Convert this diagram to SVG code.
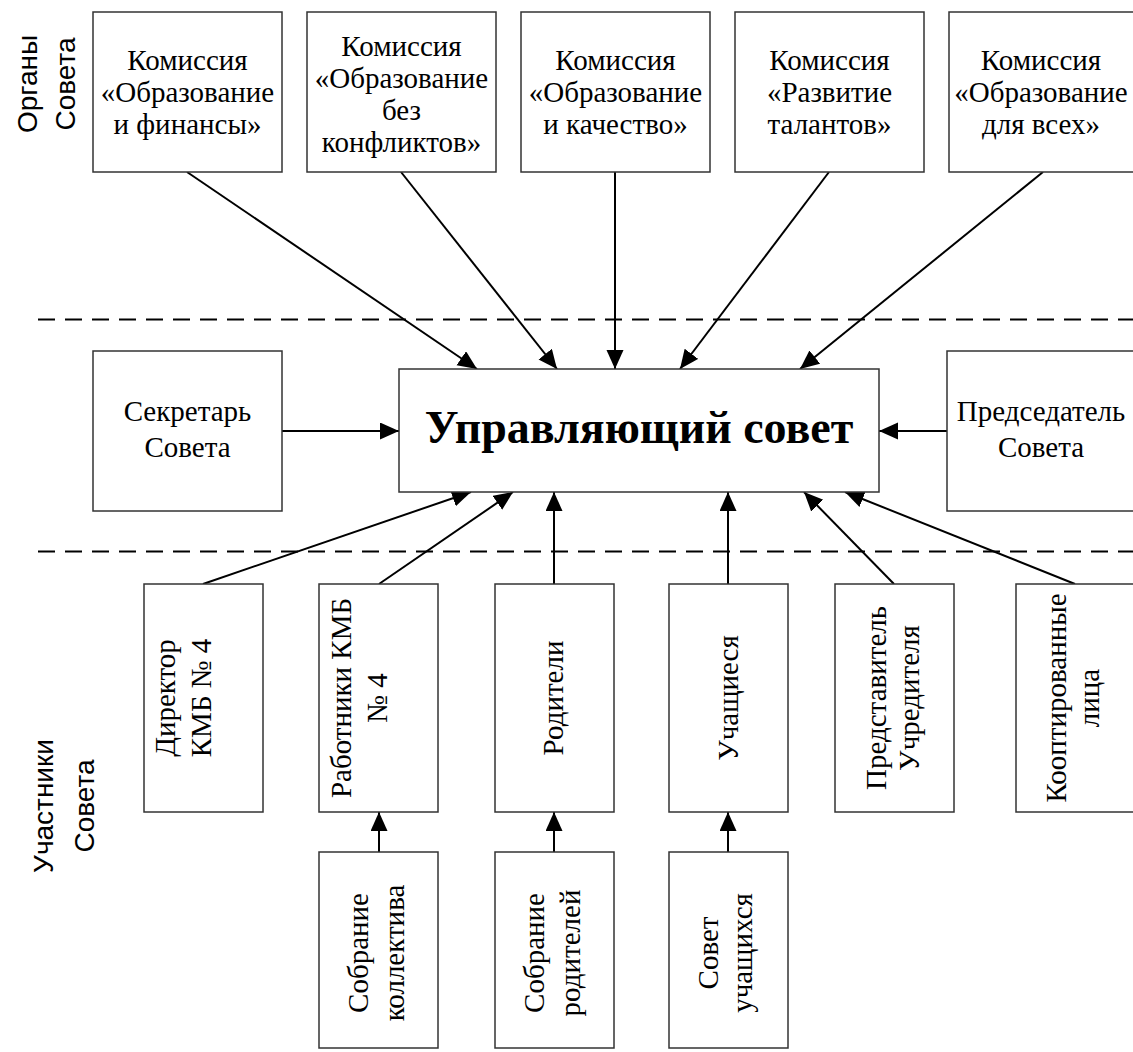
<svg xmlns="http://www.w3.org/2000/svg" width="1133" height="1052" viewBox="0 0 1133 1052">
<defs>
<style>
.box{fill:#fff;stroke:#333;stroke-width:1.5}
.t{font-family:"Liberation Serif","Times New Roman",serif;font-size:29px;fill:#000;text-anchor:middle}
.lbl{font-family:"Liberation Sans",Arial,sans-serif;font-size:28px;fill:#000;text-anchor:middle}
.main{font-family:"Liberation Serif","Times New Roman",serif;font-size:46px;font-weight:bold;fill:#000;text-anchor:middle}
.c{stroke:#000;stroke-width:2;fill:none;marker-end:url(#ah)}
.dash{stroke:#000;stroke-width:2.2;stroke-dasharray:17 10;fill:none}
</style>
<marker id="ah" markerUnits="userSpaceOnUse" markerWidth="20" markerHeight="18" refX="19" refY="8.5" orient="auto">
<path d="M0,0 L19,8.5 L0,17 z" fill="#000"/>
</marker>
</defs>
<rect width="1133" height="1052" fill="#fff"/>

<g id="separators">
<line class="dash" x1="38" y1="319.5" x2="1133" y2="319.5"/>
<line class="dash" x1="38" y1="551.5" x2="1133" y2="551.5"/>
</g>

<g id="labels">
<text class="lbl" transform="translate(37,84) rotate(-90)">Органы</text>
<text class="lbl" transform="translate(75,84) rotate(-90)">Совета</text>
<text class="lbl" transform="translate(53,806) rotate(-90)">Участники</text>
<text class="lbl" transform="translate(94,806) rotate(-90)">Совета</text>
</g>

<g id="connectors">
<line class="c" x1="187" y1="172" x2="477" y2="369"/>
<line class="c" x1="401" y1="172" x2="557" y2="369"/>
<line class="c" x1="615" y1="172" x2="615" y2="369"/>
<line class="c" x1="829" y1="172" x2="680" y2="369"/>
<line class="c" x1="1043" y1="172" x2="800" y2="369"/>
<line class="c" x1="282" y1="431" x2="399" y2="431"/>
<line class="c" x1="947" y1="431" x2="879" y2="431"/>
<line class="c" x1="203" y1="584" x2="471" y2="492"/>
<line class="c" x1="379" y1="584" x2="513" y2="492"/>
<line class="c" x1="554" y1="584" x2="554" y2="492"/>
<line class="c" x1="728" y1="584" x2="728" y2="492"/>
<line class="c" x1="894" y1="584" x2="804" y2="492"/>
<line class="c" x1="1075" y1="584" x2="845" y2="492"/>
<line class="c" x1="379" y1="852" x2="379" y2="812"/>
<line class="c" x1="554" y1="852" x2="554" y2="812"/>
<line class="c" x1="728" y1="852" x2="728" y2="812"/>
</g>

<g id="kom1">
<rect class="box" x="93" y="12" width="189" height="160"/>
<text class="t"><tspan x="187.5" y="70">Комиссия</tspan><tspan x="187.5" y="102">«Образование</tspan><tspan x="187.5" y="134">и финансы»</tspan></text>
</g>
<g id="kom2">
<rect class="box" x="307" y="12" width="189" height="160"/>
<text class="t"><tspan x="401.5" y="56">Комиссия</tspan><tspan x="401.5" y="88">«Образование</tspan><tspan x="401.5" y="120">без</tspan><tspan x="401.5" y="152">конфликтов»</tspan></text>
</g>
<g id="kom3">
<rect class="box" x="521" y="12" width="189" height="160"/>
<text class="t"><tspan x="615.5" y="70">Комиссия</tspan><tspan x="615.5" y="102">«Образование</tspan><tspan x="615.5" y="134">и качество»</tspan></text>
</g>
<g id="kom4">
<rect class="box" x="735" y="12" width="189" height="160"/>
<text class="t"><tspan x="829.5" y="70">Комиссия</tspan><tspan x="829.5" y="102">«Развитие</tspan><tspan x="829.5" y="134">талантов»</tspan></text>
</g>
<g id="kom5">
<rect class="box" x="949" y="12" width="189" height="160"/>
<text class="t"><tspan x="1041" y="70">Комиссия</tspan><tspan x="1041" y="102">«Образование</tspan><tspan x="1041" y="134">для всех»</tspan></text>
</g>

<g id="secretary">
<rect class="box" x="93" y="351" width="189" height="160"/>
<text class="t"><tspan x="187.5" y="421">Секретарь</tspan><tspan x="187.5" y="457">Совета</tspan></text>
</g>
<g id="council">
<rect class="box" x="399" y="369" width="480" height="123"/>
<text class="main" x="639" y="443">Управляющий совет</text>
</g>
<g id="chair">
<rect class="box" x="947" y="351" width="189" height="160"/>
<text class="t"><tspan x="1041" y="421">Председатель</tspan><tspan x="1041" y="457">Совета</tspan></text>
</g>

<g id="director">
<rect class="box" x="144" y="584" width="119" height="228"/>
<text class="t" transform="translate(0,698) rotate(-90)"><tspan x="0" y="175">Директор</tspan><tspan x="0" y="211">КМБ № 4</tspan></text>
</g>
<g id="workers">
<rect class="box" x="319" y="584" width="119" height="228"/>
<text class="t" transform="translate(0,698) rotate(-90)"><tspan x="0" y="351">Работники КМБ</tspan><tspan x="0" y="387">№ 4</tspan></text>
</g>
<g id="parents">
<rect class="box" x="495" y="584" width="119" height="228"/>
<text class="t" transform="translate(0,698) rotate(-90)"><tspan x="0" y="563">Родители</tspan></text>
</g>
<g id="students">
<rect class="box" x="669" y="584" width="119" height="228"/>
<text class="t" transform="translate(0,698) rotate(-90)"><tspan x="0" y="738">Учащиеся</tspan></text>
</g>
<g id="founder">
<rect class="box" x="835" y="584" width="119" height="228"/>
<text class="t" transform="translate(0,698) rotate(-90)"><tspan x="0" y="886">Представитель</tspan><tspan x="0" y="919">Учредителя</tspan></text>
</g>
<g id="coopted">
<rect class="box" x="1016" y="584" width="119" height="228"/>
<text class="t" transform="translate(0,698) rotate(-90)"><tspan x="0" y="1066">Кооптированные</tspan><tspan x="0" y="1099">лица</tspan></text>
</g>

<g id="staff-meeting">
<rect class="box" x="319" y="852" width="119" height="196"/>
<text class="t" transform="translate(0,953) rotate(-90)"><tspan x="0" y="368">Собрание</tspan><tspan x="0" y="404">коллектива</tspan></text>
</g>
<g id="parents-meeting">
<rect class="box" x="495" y="852" width="119" height="196"/>
<text class="t" transform="translate(0,953) rotate(-90)"><tspan x="0" y="544">Собрание</tspan><tspan x="0" y="580">родителей</tspan></text>
</g>
<g id="students-council">
<rect class="box" x="669" y="852" width="119" height="196"/>
<text class="t" transform="translate(0,953) rotate(-90)"><tspan x="0" y="718">Совет</tspan><tspan x="0" y="752">учащихся</tspan></text>
</g>
</svg>
